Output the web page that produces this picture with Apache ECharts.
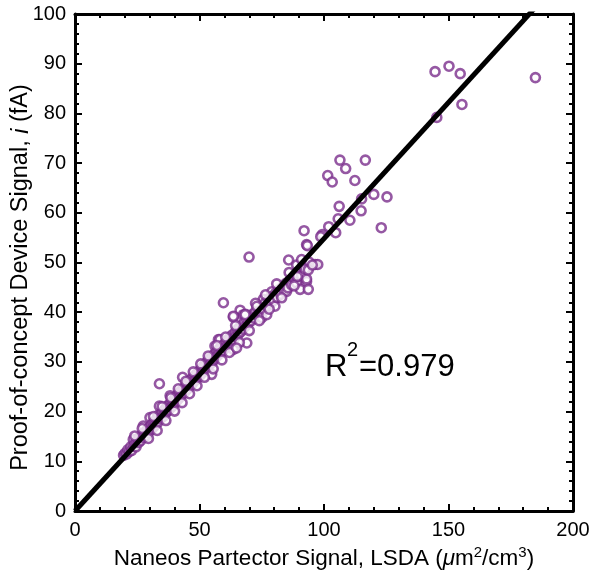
<!DOCTYPE html>
<html>
<head>
<meta charset="utf-8">
<script src="https://cdn.jsdelivr.net/npm/echarts@6/dist/echarts.min.js"></script>
<style>
  html, body { margin: 0; padding: 0; background: #fff; }
  #main { width: 589px; height: 578px; }
</style>
</head>
<body>
<div id="main"></div>
<script>
// axis ranges / ticks
const xTicks = [0, 50, 100, 150, 200];
const yTicks = [0, 10, 20, 30, 40, 50, 60, 70, 80, 90, 100];

const clusterLow = [
  [19.5,11.2],[20.1,11.6],[20.8,11.5],[21.2,12.3],[21.9,12.0],[22.4,12.9],[22.8,12.2],[23.4,14.4],
  [23.6,13.1],[24.1,13.6],[24.5,12.9],[24.9,14.0],[25.3,14.6],[25.6,13.8],[26.0,14.9],[26.4,14.2],
  [26.9,15.3],[27.4,17.1],[27.5,14.8],[27.9,15.6],[28.3,16.0],[28.6,15.1],[29.1,16.4],[29.4,15.7],
  [29.8,16.9],[30.1,18.8],[30.3,16.2],[30.7,17.3],[31.0,16.6],[31.4,17.8],[31.7,17.0],[32.1,18.1],
  [32.4,17.4],[32.9,18.6],[33.2,17.8],[33.5,19.3],[33.9,21.1],[33.9,25.6],[34.1,18.5],[34.6,19.5],
  [34.9,18.9],[35.3,20.0],[35.6,19.1],[36.0,20.4],[36.3,19.6],[36.8,20.9],[37.1,20.1],[37.5,21.3],
  [37.8,20.4],[38.2,23.2],[38.3,21.6],[38.7,20.9],[39.1,22.0],[39.4,21.2],[39.8,22.5],[40.2,21.8],
  [40.5,23.0],[40.9,22.2],[41.2,23.4],[41.6,22.6],[42.0,23.9],[42.3,23.0],[42.7,24.2],[43.2,26.9],
  [43.1,23.5],[43.5,24.6],[43.9,23.8],[44.2,25.1],[44.6,24.3],[45.0,25.6]
];
const clusterMid = [
  [45.3,24.6],[45.7,25.9],[46.0,25.1],[46.4,26.3],[46.8,25.4],[47.1,26.8],[47.5,25.9],[47.9,27.1],
  [48.2,26.3],[48.6,27.5],[49.0,26.6],[49.3,27.9],[49.7,27.1],[50.1,28.3],[50.4,27.4],[50.8,28.7],
  [51.2,27.9],[51.5,29.1],[51.9,28.3],[52.3,29.6],[52.6,28.6],[53.0,30.0],[53.4,29.1],[53.7,30.4],
  [54.1,29.5],[54.5,30.8],[54.9,27.5],[54.9,29.9],[55.3,31.2],[55.6,30.3],[56.0,31.6],[56.2,33.2],
  [56.4,30.8],[56.8,32.0],[57.1,31.2],[57.6,34.5],[57.5,32.4],[57.9,31.6],[58.2,34.5],[58.3,32.8],
  [58.7,31.9],[59.1,33.2],[59.6,41.9],[59.5,32.3],[59.9,33.6],[60.3,32.8],[60.7,34.0],[61.1,33.2],
  [61.5,34.5],[61.9,33.5],[62.3,35.0],[62.7,34.0],[63.1,35.4],[63.6,34.5],[63.6,32.5],[63.6,39.0],
  [64.0,35.1],[64.4,36.0],[64.8,35.2]
];
const clusterHigh = [
  [65.2,36.5],[65.7,35.6],[66.3,40.4],[66.1,37.0],[66.6,36.1],[67.0,37.4],[67.6,39.5],[67.5,36.6],
  [68.0,38.0],[68.5,37.2],[69.0,33.8],[69.0,38.5],[69.9,51.1],[69.6,37.8],[70.2,39.0],[70.8,38.3],
  [71.4,39.6],[72.0,38.8],[72.6,40.2],[73.2,39.4],[73.9,40.7],[74.5,39.9],[75.0,38.9],[75.1,41.3],
  [75.6,42.6],[75.8,40.6],[76.4,41.9],[77.0,39.5],[77.1,41.2],[77.8,42.6],[78.4,41.7],[79.0,44.1],
  [79.1,43.1],[79.8,42.3],[80.3,41.2],[80.5,43.8],[81.2,43.0],[81.9,44.5],[82.6,43.6],[83.3,45.1],
  [84.0,44.2],[84.7,45.8],[85.0,44.2],[85.5,44.9],[86.2,46.4],[87.0,45.5],[87.8,47.0],[88.6,46.2],
  [89.0,45.9],[89.3,47.2],[89.5,47.7],[90.4,44.6],[90.2,48.3],[91.0,47.4],[92.0,49.0],[93.0,46.2],
  [93.0,46.7],[93.0,48.6],[93.7,44.6],[94.0,50.1],[96.4,49.6],[97.5,49.6],[85.8,50.5],[89.0,49.5],
  [92.4,48.7],[93.7,48.5],[95.3,49.5],[89.3,47.2],[93.0,53.6]
];
// points at the edges of the dense band
const clusterEdge = [
  [24.0,15.1],[27.0,16.6],[29.5,14.6],[31.5,19.0],[33.0,16.2],[35.0,21.0],[36.5,18.2],[38.5,22.8],
  [40.0,20.1],[41.5,24.6],[43.0,21.8],[44.5,26.1],[46.0,23.6],[47.5,28.0],[49.0,25.2],[50.5,29.6],
  [52.0,26.9],[53.5,31.2],[55.5,28.6],[57.0,33.3],[59.0,30.4],[60.5,35.0],[62.0,31.9],[64.5,37.3],
  [66.0,33.9],[68.5,39.6],[70.0,36.3],[72.5,41.8],[74.0,38.3],[76.5,43.5],[78.0,40.6],[81.0,45.7],
  [83.0,42.9],[86.0,48.0],[88.0,45.3],[91.0,50.6],[64.9,32.8],[73.0,41.2],[63.6,39.2],[68.3,39.5]
];
const outliers = [
  [106.4,70.6],[116.6,70.6],[108.7,68.9],[101.5,67.5],[103.3,66.2],[112.4,66.5],[115.1,62.8],
  [120.0,63.7],[125.3,63.2],[106.1,61.3],[114.9,60.4],[105.7,58.8],[110.4,58.5],[123.0,57.0],
  [101.9,57.2],[104.7,56.0],[99.3,55.6],[98.7,55.2],[92.0,56.4],[93.3,53.4],
  [144.6,88.4],[150.2,89.5],[154.7,88.0],[155.4,81.8],[145.3,79.2],[184.9,87.2]
];
// linear fit through origin
const fitLine = [[0, 0], [200, 109.6]];

const points = clusterLow.concat(clusterMid, clusterHigh, clusterEdge, outliers);

const purple = '#7a2e8c';
const font = 'Liberation Sans, Arial, Helvetica, sans-serif';

function axisBase(show) {
  return {
    type: 'value',
    min: 0,
    axisLine: { show: true, onZero: false, lineStyle: { color: '#000', width: 3 } },
    axisTick: { show: true, inside: true, length: 7, lineStyle: { color: '#000', width: 2 } },
    minorTick: { show: true, splitNumber: 5, length: 4, lineStyle: { color: '#000', width: 2 } },
    splitLine: { show: false },
    axisLabel: { show: show, color: '#000', fontSize: 20, fontFamily: font, margin: 9 }
  };
}

const xMain = Object.assign(axisBase(true), {
  max: xTicks[xTicks.length - 1], interval: xTicks[1] - xTicks[0], position: 'bottom',
  name: '{t|Naneos Partector Signal, LSDA (}{i|μ}{t|m}{s|2}{t|/cm}{s|3}{t|)}',
  nameLocation: 'middle', nameGap: 32,
  nameTextStyle: {
    rich: {
      t: { fontSize: 22.5, fontFamily: font, color: '#000', lineHeight: 27 },
      i: { fontSize: 22.5, fontFamily: font, fontStyle: 'italic', color: '#000', lineHeight: 27 },
      s: { fontSize: 15, fontFamily: font, color: '#000', verticalAlign: 'top', lineHeight: 15 }
    }
  }
});
const xTop = Object.assign(axisBase(false), {
  max: xTicks[xTicks.length - 1], interval: xTicks[1] - xTicks[0], position: 'top'
});
const yMain = Object.assign(axisBase(true), {
  max: yTicks[yTicks.length - 1], interval: yTicks[1] - yTicks[0], position: 'left',
  name: '{t|Proof-of-concept Device Signal, }{i|i}{t| (fA)}',
  nameLocation: 'middle', nameGap: 42, nameRotate: 90, nameMoveOverlap: false,
  nameTextStyle: {
    padding: [0, 30, 0, 0],
    rich: {
      t: { fontSize: 23.5, fontFamily: font, color: '#000' },
      i: { fontSize: 23.5, fontFamily: font, fontStyle: 'italic', color: '#000' }
    }
  }
});
const yRight = Object.assign(axisBase(false), {
  max: yTicks[yTicks.length - 1], interval: yTicks[1] - yTicks[0], position: 'right'
});

const chart = echarts.init(document.getElementById('main'), null, { renderer: 'canvas' });
chart.setOption({
  animation: false,
  backgroundColor: '#fff',
  grid: { left: 75, right: 16, top: 14, bottom: 67, outerBoundsMode: 'none', containLabel: false },
  xAxis: [xMain, xTop],
  yAxis: [yMain, yRight],
  graphic: [
    { type: 'text', left: 325, top: 352, style: { text: 'R', fontSize: 31, fontFamily: font, fill: '#000' } },
    { type: 'text', left: 347, top: 340, style: { text: '2', fontSize: 20, fontFamily: font, fill: '#000' } },
    { type: 'text', left: 359, top: 352, style: { text: '=0.979', fontSize: 31, fontFamily: font, fill: '#000' } }
  ],
  series: [
    {
      type: 'scatter',
      data: points,
      symbol: 'circle',
      symbolSize: 9,
      itemStyle: { color: '#fff', borderColor: purple, borderWidth: 2.6 },
      z: 2
    },
    {
      type: 'line',
      data: fitLine,
      showSymbol: false,
      symbol: 'none',
      clip: true,
      lineStyle: { color: '#000', width: 5 },
      z: 3
    }
  ]
});
</script>
</body>
</html>
